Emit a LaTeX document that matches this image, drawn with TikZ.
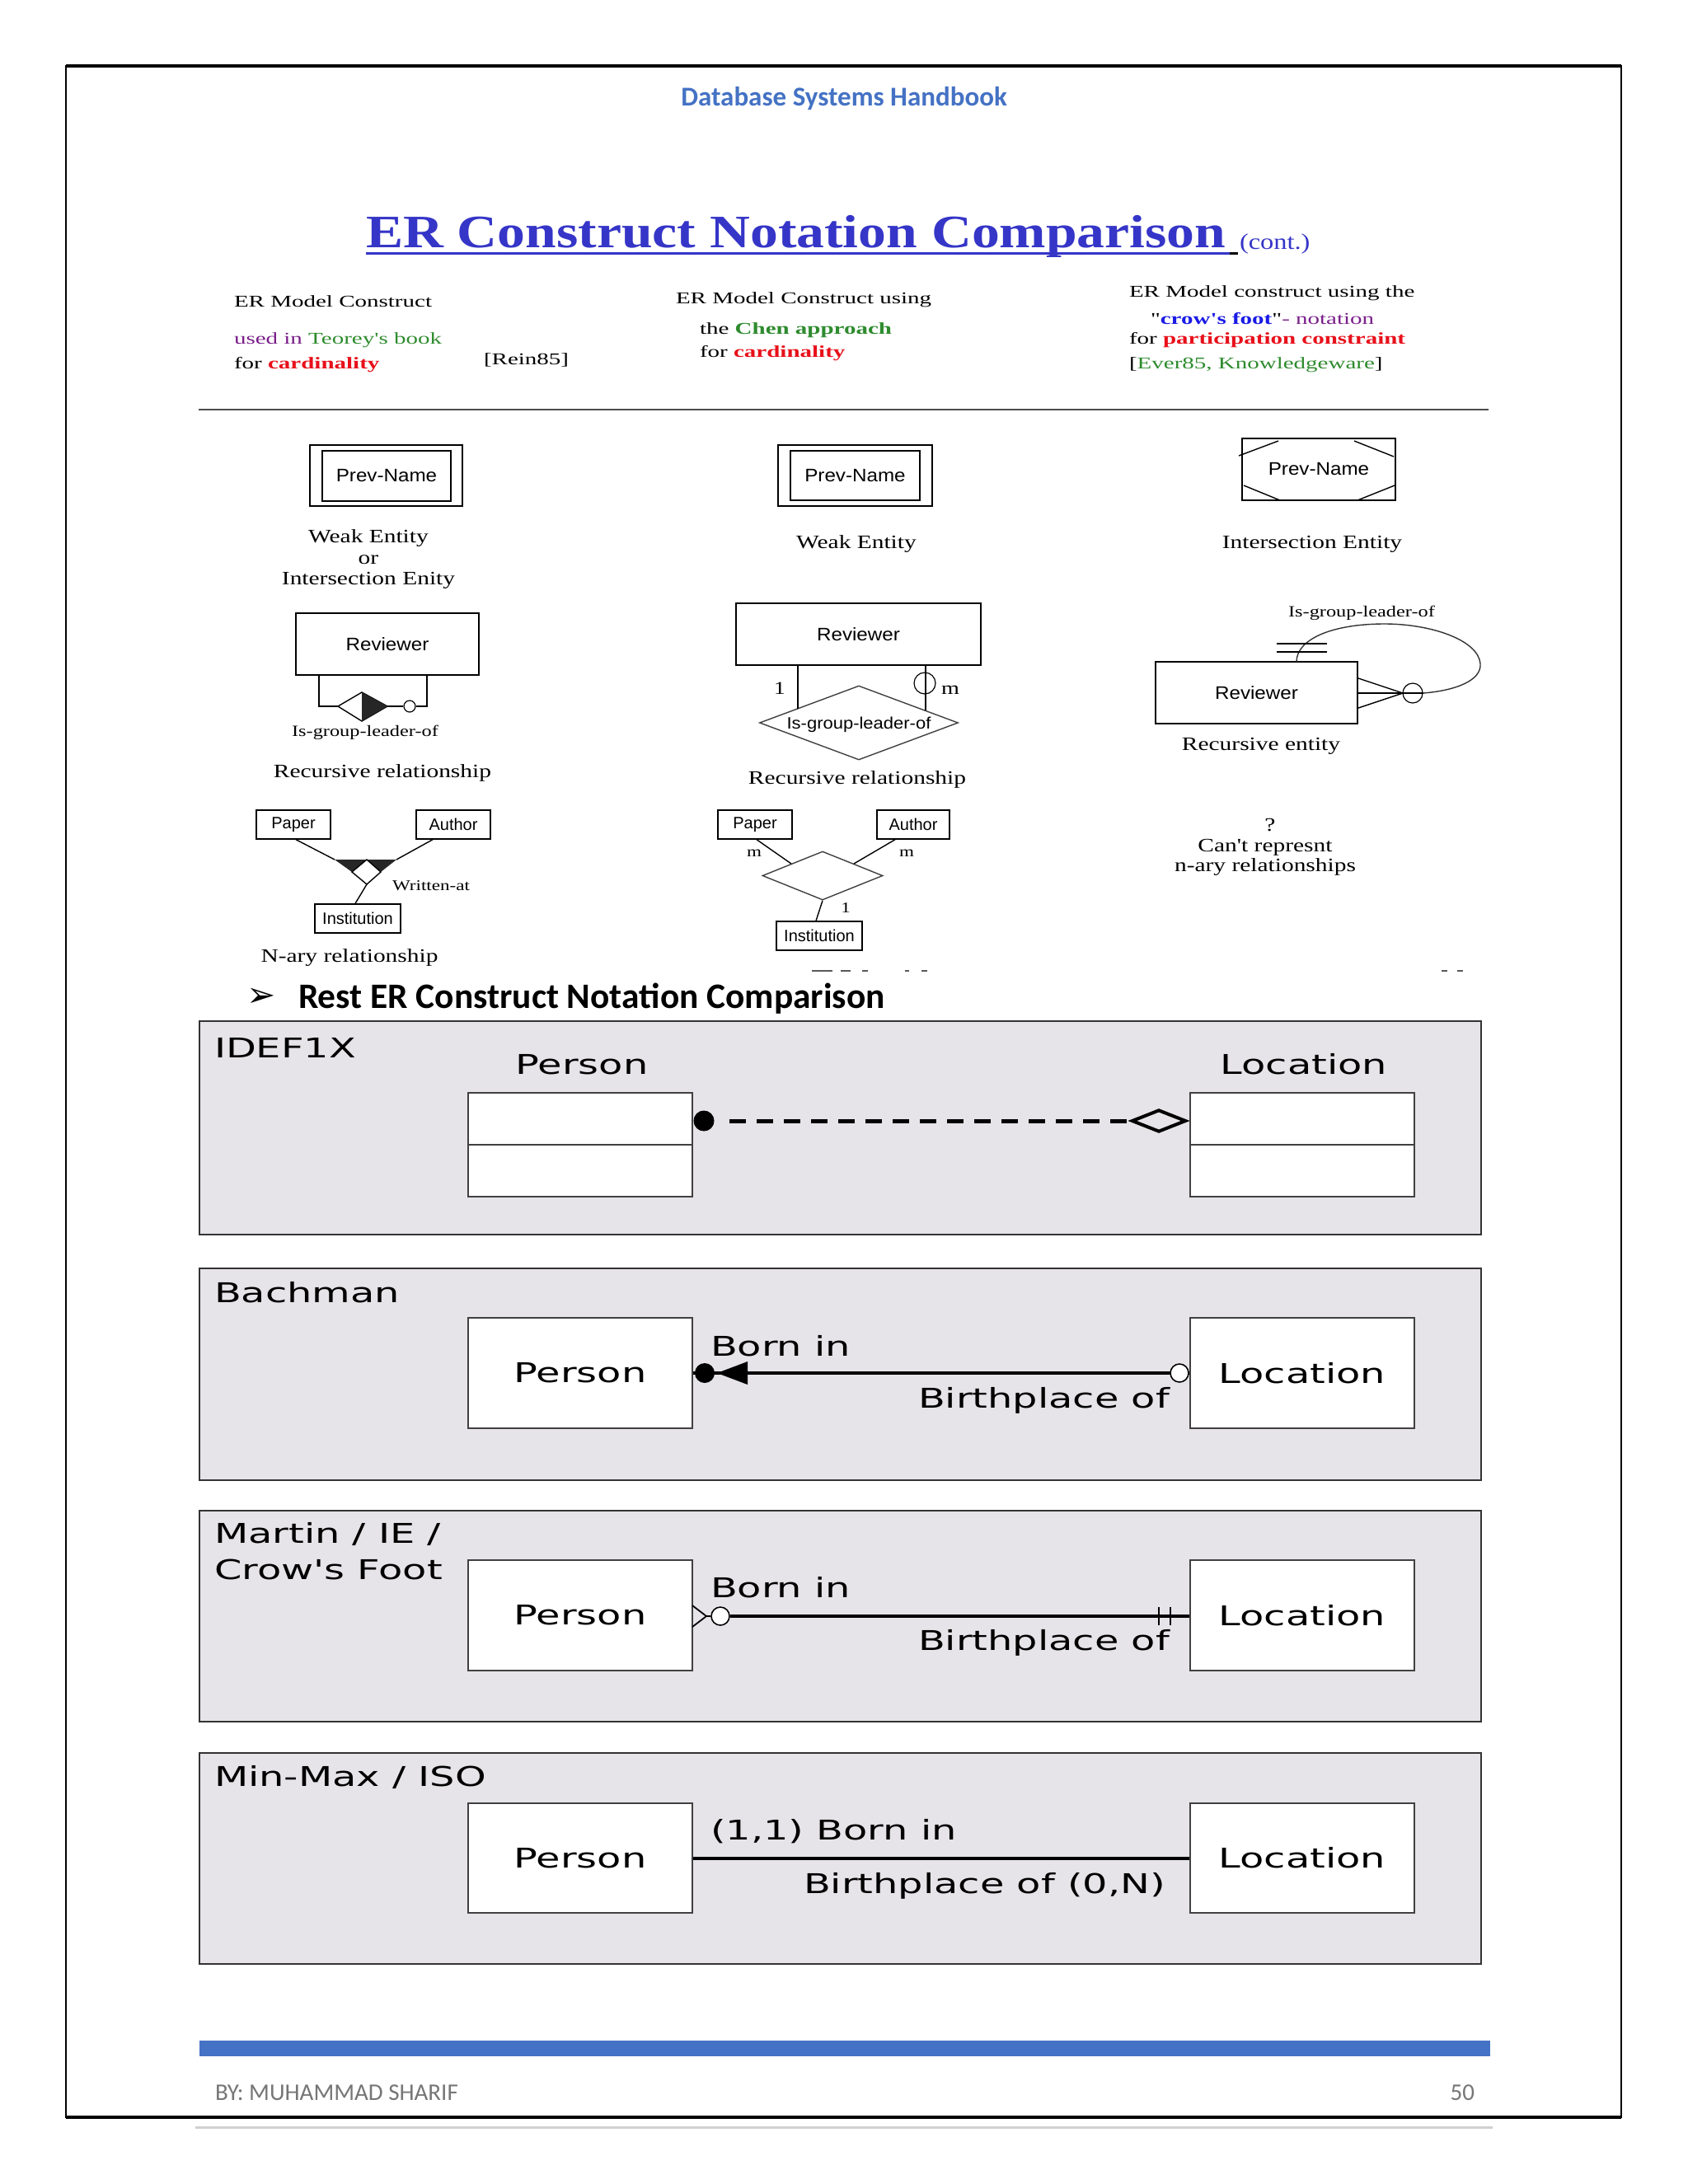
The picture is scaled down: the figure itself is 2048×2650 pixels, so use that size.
\documentclass[tikz,border=0pt]{standalone}
\usepackage{fontspec}
\setmainfont{Liberation Serif}
\newfontfamily\calib{Carlito}
\newfontfamily\ttlfont[FakeStretch=1.2]{Liberation Serif}
\newfontfamily\colfont[FakeStretch=1.45]{Liberation Serif}
\newfontfamily\dlab[FakeStretch=1.28]{Liberation Serif}
\newfontfamily\dsans[FakeStretch=1.1]{Liberation Sans}
\newfontfamily\nsans{Liberation Sans}
\newfontfamily\pfont[FakeStretch=1.45]{DejaVu Sans}
\newfontfamily\symfont{DejaVu Sans}
\usetikzlibrary{shapes.geometric,calc}
\newcommand\fsz[1]{\fontsize{#1}{#1}\selectfont}
\definecolor{hdrblue}{HTML}{4472C4}
\definecolor{ttlblue}{HTML}{3535C8}
\definecolor{purp}{HTML}{7A1F8A}
\definecolor{grn}{HTML}{2E8B2E}
\definecolor{redc}{HTML}{E8101A}
\definecolor{crowb}{HTML}{1A1AE6}
\definecolor{panelgray}{HTML}{E6E4E8}
\definecolor{footgray}{HTML}{767676}
\begin{document}
\begin{tikzpicture}[x=0.5pt,y=-0.5pt,
  lab/.style={inner sep=0pt, outer sep=0pt},
  coltext/.style={lab, anchor=base west, font=\colfont\fsz{10}},
  dtext/.style={lab, anchor=base, font=\dlab\fsz{11.5}},
  stext/.style={lab, anchor=base, font=\dlab\fsz{9.5}},
  ebox/.style={draw, line width=0.75pt, inner sep=0pt, font=\dsans\fsz{11}},
  sbox/.style={draw, line width=0.7pt, inner sep=0pt, minimum height=17.5pt, font=\nsans\fsz{10}},
  dl/.style={line width=0.7pt},
  panel/.style={draw=black!80, line width=1.2pt, fill=panelgray},
  pbox/.style={draw=black!75, line width=1pt, fill=white, inner sep=0pt, minimum width=136pt, font=\pfont\fsz{16.5}},
  ptext/.style={lab, font=\pfont\fsz{16.5}},
]
\useasboundingbox (0,0) rectangle (2048,2650);
\fill[white] (0,0) rectangle (2048,2650);
% page frame
\draw[line width=1pt] (80,80) rectangle (1967,2569);
\draw[line width=1.6pt] (80,80) -- (1967,80);
\draw[line width=1.6pt] (80,2569) -- (1967,2569);
\draw[black!18, line width=1.5pt] (237,2581) -- (1811,2581);

% header
\node[lab, anchor=base, font=\calib\bfseries\fsz{16.5}, text=hdrblue] (hdr) at (1024,128) {Database Systems Handbook};

% title
\node[lab, anchor=base west, font=\ttlfont\bfseries\fsz{28.2}, text=ttlblue] (ttl) at (444,300) {ER Construct Notation Comparison};
\node[lab, anchor=base west, font=\ttlfont\fsz{13.5}, text=ttlblue] (cont) at (1504,302) {(cont.)};
\draw[ttlblue, line width=1.5pt] (444,307) -- (1492,307);
\draw[black, line width=1.5pt] (1492,307) -- (1502,307);

% column headings
\node[coltext] (c1a) at (284,372) {ER Model Construct};
\node[coltext] (c1b) at (284,417) {\textcolor{purp}{used in} \textcolor{grn}{Teorey's book}};
\node[coltext] (c1c) at (284,447) {for \textcolor{redc}{\bfseries cardinality}};
\node[coltext] (c1d) at (587,442) {[Rein85]};
\node[coltext] (c2a) at (820,368) {ER Model Construct using};
\node[coltext] (c2b) at (849,405) {the \textcolor{grn}{\bfseries Chen approach}};
\node[coltext] (c2c) at (849,433) {for \textcolor{redc}{\bfseries cardinality}};
\node[coltext] (c3a) at (1370,360) {ER Model construct using the};
\node[coltext] (c3b) at (1396,393) {"\textcolor{crowb}{\bfseries crow's foot}"\textcolor{purp}{- notation}};
\node[coltext] (c3c) at (1370,417) {for \textcolor{redc}{\bfseries participation constraint}};
\node[coltext] (c3d) at (1370,447) {[\textcolor{grn}{Ever85, Knowledgeware}]};
\draw[black!70, line width=1pt] (241,497) -- (1806,497);

% ---------- column 1 ----------
\draw[line width=0.75pt] (376,540) rectangle (561,614);
\node[ebox, minimum width=78pt, minimum height=30.5pt] (pn1) at (469,577.5) {Prev-Name};
\node[dtext] (w1a) at (447,658) {Weak Entity};
\node[dtext] (w1b) at (447,684) {or};
\node[dtext] (w1c) at (447,709) {Intersection Enity};

\node[ebox, minimum width=111pt, minimum height=37.5pt] (rv1) at (470,781.5) {Reviewer};
\coordinate (d1l) at (410,857);
\coordinate (d1t) at (439,840);
\coordinate (d1r) at (470,857);
\coordinate (d1b) at (439,875);
\draw[dl] (387,819) -- (387,857) -- (d1l);
\draw[dl, fill=white] (d1l) -- (d1t) -- (d1r) -- (d1b) -- cycle;
\fill[black!85] (d1t) -- (d1r) -- (d1b) -- cycle;
\node[circle, draw, line width=0.6pt, inner sep=0pt, minimum size=7pt] (o1) at (497,857) {};
\draw[dl] (d1r) -- (o1.west);
\draw[dl] (o1.east) -- (518,857) -- (518,819);
\node[stext] (g1) at (443,893) {Is-group-leader-of};
\node[dtext] (rr1) at (464,943) {Recursive relationship};

\node[sbox, minimum width=45pt] (pa1) at (356,1000.5) {Paper};
\node[sbox, minimum width=45pt] (au1) at (550,1000.5) {Author};
\node[sbox, minimum width=52pt] (in1) at (434,1114.5) {Institution};
\fill[black!85] (406,1043) -- (445,1043) -- (427,1058) -- cycle;
\fill[black!85] (445,1043) -- (481,1043) -- (462,1058) -- cycle;
\draw[dl, fill=white] (445,1043) -- (462,1058) -- (445,1073) -- (427,1058) -- cycle;
\draw[dl] ([xshift=1.5pt]pa1.south) -- (406,1043);
\draw[dl] ([xshift=-12.5pt]au1.south) -- (481,1043);
\draw[dl] (445,1073) -- ([xshift=-1.5pt]in1.north);
\node[lab, anchor=base, font=\dlab\fsz{9}] (wa1) at (523,1080) {Written-at};
\node[dtext] (nr1) at (424,1167) {N-ary relationship};

% ---------- column 2 ----------
\draw[line width=0.75pt] (944,540) rectangle (1131,614);
\node[ebox, minimum width=78.5pt, minimum height=30pt] (pn2) at (1037.5,577) {Prev-Name};
\node[dtext] (w2a) at (1039,665) {Weak Entity};

\node[ebox, minimum width=148.5pt, minimum height=37.5pt] (rv2) at (1041.5,769.5) {Reviewer};
\node[diamond, draw=black!75, line width=0.7pt, inner sep=0pt, minimum width=120.5pt, minimum height=45pt] (rel2) at (1042,877) {};
\node[lab, font=\dsans\fsz{10}] (rl2) at (1042,879) {Is-group-leader-of};
\draw[dl] (968,807) -- (968,860);
\draw[dl] (1123,807) -- (1123,862);
\node[circle, draw, line width=0.6pt, inner sep=0pt, minimum size=13pt] (o2) at (1122,829) {};
\node[lab, font=\dlab\fsz{11}] (one2) at (946,835) {1};
\node[lab, font=\dlab\fsz{11}] (m2) at (1153,837) {m};
\node[dtext] (rr2) at (1040,951) {Recursive relationship};

\node[sbox, minimum width=45pt] (pa2) at (916,1000.5) {Paper};
\node[sbox, minimum width=44pt] (au2) at (1108,1000.5) {Author};
\node[sbox, minimum width=52pt] (in2) at (994,1135.5) {Institution};
\node[diamond, draw=black!75, line width=0.7pt, inner sep=0pt, minimum width=73pt, minimum height=29.5pt] (rel3) at (998,1062.5) {};
\draw[dl] ([xshift=1pt]pa2.south) -- (960,1048);
\draw[dl] ([xshift=-11pt]au2.south) -- (1036,1048);
\draw[dl] (rel3.south) -- ([xshift=-2pt]in2.north);
\node[lab, font=\dlab\fsz{9}] (m3) at (915,1035) {m};
\node[lab, font=\dlab\fsz{9}] (m4) at (1100,1035) {m};
\node[lab, font=\dlab\fsz{9}] (one3) at (1026,1102) {1};

% ---------- column 3 ----------
\node[ebox, minimum width=93pt, minimum height=37.5pt] (pn3) at (1600,569.5) {Prev-Name};
\draw[dl] (1503,553) -- (1551,535);
\draw[dl] (1643,535) -- (1691,554);
\draw[dl] (1509,589) -- (1553,607);
\draw[dl] (1647,607) -- (1692,589);
\node[dtext] (ie3) at (1592,665) {Intersection Entity};

\node[ebox, minimum width=122.5pt, minimum height=37.5pt] (rv3) at (1524.5,840.5) {Reviewer};
\coordinate (cf3) at (1702,841);
\draw[dl] (1648,823) -- (cf3);
\draw[dl] (1648,841) -- (cf3);
\draw[dl] (1648,859) -- (cf3);
\node[circle, draw, line width=0.6pt, inner sep=0pt, minimum size=12pt] (o3) at (1714,841) {};
\draw[dl] (cf3) -- (o3.east);
\draw[dl, black!80] (o3.east) .. controls (1765,838) and (1798,826) .. (1796,805)
   .. controls (1793,776) and (1735,757) .. (1680,757)
   .. controls (1615,757) and (1573,776) .. (1573,803);
\draw[dl] (1549,781) -- (1610,781);
\draw[dl] (1549,791) -- (1610,791);
\node[stext] (g3) at (1652,748) {Is-group-leader-of};
\node[dtext] (re3) at (1530,910) {Recursive entity};

\node[dtext] (q3) at (1541,1008) {?};
\node[dtext] (cr3) at (1535,1033) {Can't represnt};
\node[dtext] (na3) at (1535,1057) {n-ary relationships};

% cut-off fragments
\foreach \a/\b in {985/1010,1020/1032,1046/1053,1098/1103,1118/1125,1749/1756,1768/1775}
  \draw[black!65, line width=1pt] (\a,1178) -- (\b,1178);

% ---------- section heading ----------
\node[lab, font=\symfont\fsz{21}] (arr) at (317,1210) {➢};
\node[lab, anchor=base west, font=\calib\bfseries\fsz{21.7}] (rest) at (362,1223) {Rest ER Construct Notation Comparison};

% ---------- IDEF1X ----------
\draw[panel] (242,1239) rectangle (1797,1498);
\node[ptext, anchor=base west] (idef) at (260,1283) {IDEF1X};
\node[ptext, anchor=base] (pl1) at (706,1303) {Person};
\node[ptext, anchor=base] (ll1) at (1582,1303) {Location};
\node[pbox, minimum height=63pt] (p1) at (704,1389) {};
\node[pbox, minimum height=63pt] (l1) at (1580,1389) {};
\draw[black!75, line width=1pt] (p1.west) -- (p1.east);
\draw[black!75, line width=1pt] (l1.west) -- (l1.east);
\node[circle, fill=black, inner sep=0pt, minimum size=12.5pt] (dot1) at (854,1360) {};
\node[diamond, draw=black, line width=2pt, fill=panelgray, inner sep=0pt, minimum width=33pt, minimum height=13.5pt] (dia1) at (1406,1360) {};
\draw[line width=2.5pt, dash pattern=on 10pt off 6.5pt] (885,1360) -- (dia1.west);

% ---------- Bachman ----------
\draw[panel] (242,1539) rectangle (1797,1796);
\node[ptext, anchor=base west] (bach) at (260,1580) {Bachman};
\node[pbox, minimum height=67pt] (p2) at (704,1666) {Person};
\node[pbox, minimum height=67pt] (l2) at (1580,1666) {Location};
\draw[line width=2pt] (p2.east) -- (l2.west);
\node[circle, fill=black, inner sep=0pt, minimum size=12pt] (dot2) at (855,1666) {};
\fill (870,1666) -- (907,1652) -- (907,1680) -- cycle;
\node[circle, draw=black, fill=white, line width=0.8pt, inner sep=0pt, minimum size=11pt] (oc2) at (1431,1666) {};
\node[ptext, anchor=base west] (bi2) at (862,1645) {Born in};
\node[ptext, anchor=base east] (bp2) at (1419,1708) {Birthplace of};

% ---------- Martin ----------
\draw[panel] (242,1833) rectangle (1797,2089);
\node[ptext, anchor=base west] (mar1) at (260,1872) {Martin / IE /};
\node[ptext, anchor=base west] (mar2) at (260,1916) {Crow's Foot};
\node[pbox, minimum height=67pt] (p3) at (704,1960) {Person};
\node[pbox, minimum height=67pt] (l3) at (1580,1960) {Location};
\node[circle, draw=black, fill=white, line width=0.8pt, inner sep=0pt, minimum size=11pt] (oc3) at (874,1961) {};
\draw[line width=0.9pt] (840,1948) -- (857,1961) -- (840,1974);
\draw[line width=0.9pt] (857,1961) -- (oc3.west);
\draw[line width=2pt] (oc3.east) -- (l3.west |- oc3.east);
\draw[line width=1pt] (1406,1950) -- (1406,1972);
\draw[line width=1pt] (1420,1950) -- (1420,1972);
\node[ptext, anchor=base west] (bi3) at (862,1938) {Born in};
\node[ptext, anchor=base east] (bp3) at (1419,2002) {Birthplace of};

% ---------- Min-Max ----------
\draw[panel] (242,2127) rectangle (1797,2383);
\node[ptext, anchor=base west] (mm) at (260,2167) {Min-Max / ISO};
\node[pbox, minimum height=66.5pt] (p4) at (704,2254.5) {Person};
\node[pbox, minimum height=66.5pt] (l4) at (1580,2254.5) {Location};
\draw[line width=2pt] (p4.east) -- (l4.west);
\node[ptext, anchor=base west] (bi4) at (862,2232) {(1,1) Born in};
\node[ptext, anchor=base east] (bp4) at (1414,2297) {Birthplace of (0,N)};

% ---------- footer ----------
\fill[hdrblue] (242,2476) rectangle (1808,2495);
\node[lab, anchor=base west, font=\calib\fsz{14.5}, text=footgray] (by) at (261,2548) {BY: MUHAMMAD SHARIF};
\node[lab, anchor=base east, font=\calib\fsz{14.5}, text=footgray] (pg) at (1789,2548) {50};
\end{tikzpicture}
\end{document}
